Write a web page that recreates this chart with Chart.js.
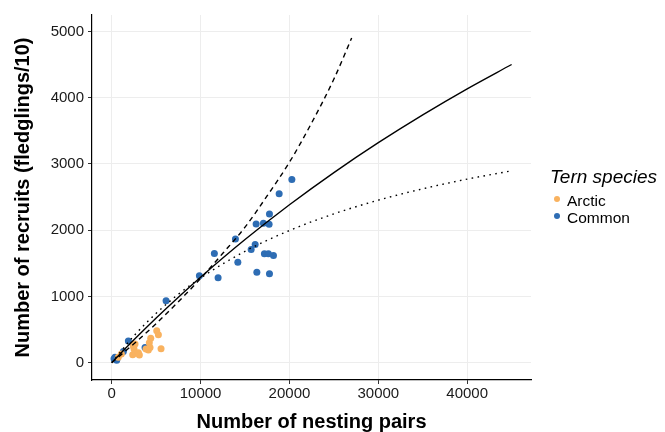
<!DOCTYPE html>
<html>
<head>
<meta charset="utf-8">
<script src="https://cdn.jsdelivr.net/npm/chart.js@4"></script>
<style>
  body { margin: 0; background: #fff; }
  #wrap { position: relative; width: 665px; height: 432px; font-family: 'Liberation Sans', Arial, sans-serif; }
  #legend { position: absolute; left: 550px; top: 166px; color: #000; }
  #legend .title { font-size: 19px; font-style: italic; line-height: 22px; margin-bottom: 4px; }
  #legend .item { font-size: 15.5px; line-height: 17px; position: relative; padding-left: 17px; }
  #legend .dot { position: absolute; left: 4px; top: 4px; width: 6px; height: 6px; border-radius: 50%; }
</style>
</head>
<body>
<div id="wrap">
  <canvas id="ternChart" width="665" height="432"></canvas>
  <div id="legend">
    <div class="title">Tern species</div>
    <div class="item"><span class="dot" style="background:#F9B25F"></span>Arctic</div>
    <div class="item"><span class="dot" style="background:#2E6DB4"></span>Common</div>
  </div>
</div>
<script>
// observed colonies
const arcticPairs    = [740, 1080, 2360, 2510, 2620, 2740, 3000, 3110, 2430, 3860, 4120, 4230, 4310, 4390, 5065, 5250, 5550];
const arcticRecruits = [80, 130, 120, 205, 280, 140, 150, 115, 250, 205, 190, 300, 230, 370, 480, 420, 210];

const commonPairs    = [260, 560, 370, 1310, 1870, 3750, 6115, 9865, 11550, 11970, 13920, 14190, 15690, 16140, 16250, 16330, 17070, 17180, 17630, 17710, 17750, 17750, 18200, 18840, 20270];
const commonRecruits = [60, 36, 80, 170, 325, 228, 936, 1310, 1649, 1280, 1866, 1515, 1709, 1785, 2093, 1365, 2103, 1644, 1644, 2088, 2245, 1341, 1618, 2548, 2766];

// fitted curves
const curvePairs  = [0, 2500, 5000, 7500, 10000, 15000, 20000, 25000, 30000, 35000, 40000, 45000];
const solidFit    = [0, 344, 673, 988, 1290, 1858, 2383, 2869, 3320, 3740, 4133, 4500];
const dottedFit   = [0, 405, 744, 1032, 1278, 1681, 1994, 2246, 2452, 2624, 2770, 2895];
const dashedPairs = [0, 2500, 5000, 7500, 10000, 12500, 15000, 17500, 20000, 22500, 25000, 27000];
const dashedFit   = [0, 285, 590, 920, 1270, 1650, 2045, 2520, 3025, 3620, 4280, 4900];

const xTicks = [0, 10000, 20000, 30000, 40000];
const yTicks = [0, 1000, 2000, 3000, 4000, 5000];

const toPoints = (xs, ys) => xs.map((x, i) => ({ x: x, y: ys[i] }));

const gridColor = '#EDEDED';
const inkColor = '#1A1A1A';

const lineStyle = {
    showLine: true,
    pointRadius: 0,
    borderColor: '#000',
    borderWidth: 1.4,
    cubicInterpolationMode: 'monotone',
    fill: false,
    order: 0
};

new Chart(document.getElementById('ternChart'), {
    type: 'scatter',
    data: {
        datasets: [
            Object.assign({ label: 'solid', data: toPoints(curvePairs, solidFit) }, lineStyle),
            Object.assign({ label: 'dashed', data: toPoints(dashedPairs, dashedFit), borderDash: [5, 4] }, lineStyle),
            Object.assign({ label: 'dotted', data: toPoints(curvePairs, dottedFit), borderDash: [1.6, 4.4] }, lineStyle),
            {
                label: 'Arctic',
                data: toPoints(arcticPairs, arcticRecruits),
                backgroundColor: '#F9B25F',
                borderWidth: 0,
                pointRadius: 3.5,
                order: 1
            },
            {
                label: 'Common',
                data: toPoints(commonPairs, commonRecruits),
                backgroundColor: '#2E6DB4',
                borderWidth: 0,
                pointRadius: 3.5,
                order: 1
            }
        ]
    },
    options: {
        responsive: false,
        animation: false,
        layout: { padding: { left: 0, top: 15, right: 134, bottom: 0 } },
        plugins: {
            legend: { display: false },
            tooltip: { enabled: false }
        },
        scales: {
            x: {
                type: 'linear',
                min: -2220,
                max: 47180,
                afterBuildTicks: axis => { axis.ticks = xTicks.map(v => ({ value: v })); },
                afterFit: scale => { scale.height = 52; },
                grid: { color: gridColor, lineWidth: 1, tickColor: '#333', tickLength: 4, tickWidth: 1 },
                border: { color: '#000', width: 1.2 },
                ticks: {
                    color: inkColor,
                    padding: 2,
                    maxRotation: 0,
                    font: { family: "'Liberation Sans', Arial", size: 15, lineHeight: 1 },
                    callback: v => String(v)
                },
                title: {
                    display: true,
                    text: 'Number of nesting pairs',
                    color: '#000',
                    padding: { top: 0, bottom: 0 },
                    font: { family: "'Liberation Sans', Arial", size: 20, weight: 'bold', lineHeight: 1 }
                }
            },
            y: {
                type: 'linear',
                min: -262,
                max: 5247,
                afterBuildTicks: axis => { axis.ticks = yTicks.map(v => ({ value: v })); },
                afterFit: scale => { scale.width = 92; },
                grid: { color: gridColor, lineWidth: 1, tickColor: '#333', tickLength: 4, tickWidth: 1 },
                border: { color: '#000', width: 1.2 },
                ticks: {
                    color: inkColor,
                    padding: 4,
                    font: { family: "'Liberation Sans', Arial", size: 15, lineHeight: 1 },
                    callback: v => String(v)
                },
                title: {
                    display: true,
                    text: 'Number of recruits (fledglings/10)',
                    color: '#000',
                    padding: { top: 13, bottom: 0 },
                    font: { family: "'Liberation Sans', Arial", size: 20, weight: 'bold', lineHeight: 1 }
                }
            }
        }
    }
});
</script>
</body>
</html>
